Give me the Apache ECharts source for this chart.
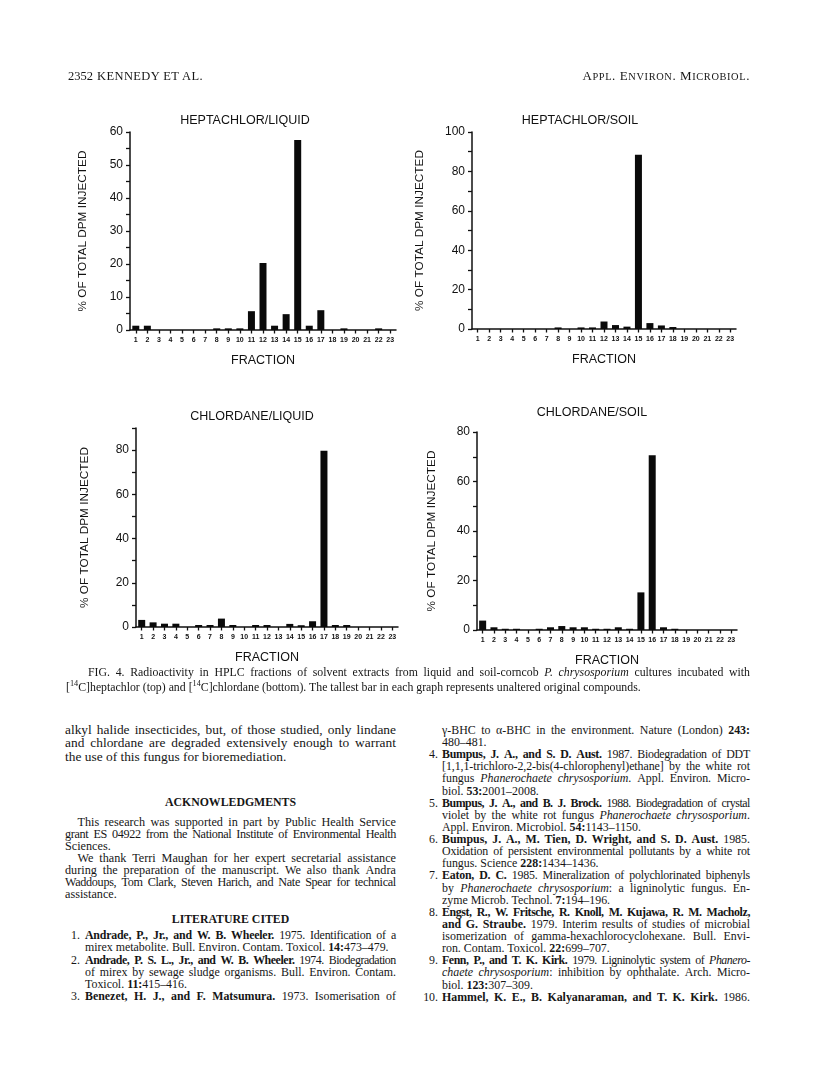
<!DOCTYPE html>
<html><head><meta charset="utf-8">
<script src="https://cdn.jsdelivr.net/npm/echarts@6/dist/echarts.min.js"></script>
<style>
html,body{margin:0;padding:0;background:#fff;}
#page{position:relative;width:816px;height:1078px;overflow:hidden;background:#fff;}
#chart{position:absolute;left:0;top:0;width:816px;height:700px;}
.ln{position:absolute;font-family:"Liberation Serif","Times New Roman",serif;color:#161616;white-space:nowrap;}
</style></head><body><div id="page"><div id="chart"></div></div>
<script>
// ---------------- data ----------------
const fractions = ['1','2','3','4','5','6','7','8','9','10','11','12','13','14','15','16','17','18','19','20','21','22','23'];
const heptachlorLiquid = [1.3,1.3,0,0,0,0,0,0.5,0.5,0.5,5.7,20.3,1.3,4.8,57.6,1.3,6.0,0,0.5,0,0,0.5,0];
const heptachlorSoil   = [0,0,0,0,0,0,0,0.8,0,0.8,0.8,3.8,2.0,1.2,88.5,3.0,1.8,1.0,0,0,0,0,0];
const chlordaneLiquid  = [3.2,2.1,1.5,1.5,0,0.9,0.9,3.8,0.9,0,0.9,0.9,0,1.4,0.8,2.6,79.7,0.9,0.9,0,0,0,0];
const chlordaneSoil    = [3.8,1.1,0.5,0.5,0,0.5,1.1,1.6,1.1,1.1,0.5,0.5,1.1,0.5,15.2,70.6,1.1,0.5,0,0,0,0,0];
const titles = ['HEPTACHLOR/LIQUID','HEPTACHLOR/SOIL','CHLORDANE/LIQUID','CHLORDANE/SOIL'];
const yTickLabels1 = [0,10,20,30,40,50,60];
const yTickLabels2 = [0,20,40,60,80,100];
const yTickLabels3 = [0,20,40,60,80];
const yTickLabels4 = [0,20,40,60,80];
const yAxisName = '% OF TOTAL DPM INJECTED';
const xAxisName = 'FRACTION';

// ---------------- charts ----------------
const panels = [
  {data: heptachlorLiquid, labels: yTickLabels1, max: 60, step: 5,  grid:{left:130, top:132, width:266, height:198}, title:[245,121], nameGap:41},
  {data: heptachlorSoil,   labels: yTickLabels2, max: 100, step: 10, grid:{left:472, top:132, width:264, height:197}, title:[580,121], nameGap:46},
  {data: chlordaneLiquid,  labels: yTickLabels3, max: 90, step: 10,  grid:{left:136, top:428, width:262, height:199}, title:[252,417], nameGap:45},
  {data: chlordaneSoil,    labels: yTickLabels4, max: 80, step: 10,  grid:{left:477, top:432, width:260, height:198}, title:[592,413], nameGap:39}
];
const SANS = '"Liberation Sans", Arial, Helvetica, sans-serif';
const axisLine = {show:true, lineStyle:{color:'#111', width:1.5}};
const option = {
  animation:false,
  backgroundColor:'transparent',
  grid: panels.map(p => Object.assign({containLabel:false}, p.grid)),
  xAxis: panels.map((p,i) => ({
    type:'category', gridIndex:i, data:fractions,
    axisLine: axisLine,
    axisTick:{show:true, alignWithLabel:true, length:3.5, lineStyle:{color:'#111', width:1.3}},
    axisLabel:{interval:0, fontSize:7, fontWeight:'bold', color:'#111', margin:7, fontFamily:SANS},
    name:xAxisName, nameLocation:'middle', nameGap:24,
    nameTextStyle:{fontSize:12.5, color:'#111', fontFamily:SANS}
  })),
  yAxis: panels.map((p,i) => ({
    type:'value', gridIndex:i, min:0, max:p.max, interval:p.step,
    axisLine: axisLine, splitLine:{show:false},
    axisTick:{show:true, length:4, lineStyle:{color:'#111', width:1.3}},
    axisLabel:{fontSize:12, color:'#111', margin:7, fontFamily:SANS,
      formatter: v => p.labels.indexOf(v) >= 0 ? String(v) : ''},
    name:yAxisName, nameLocation:'middle', nameGap:p.nameGap, nameRotate:90,
    nameTextStyle:{fontSize:11.8, color:'#111', fontFamily:SANS}
  })),
  series: panels.map((p,i) => ({
    type:'bar', xAxisIndex:i, yAxisIndex:i, data:p.data, barWidth:7,
    itemStyle:{color:'#0a0a0a'}
  })),
  graphic: panels.map((p,i) => ({
    type:'text', x:p.title[0], y:p.title[1],
    style:{text:titles[i], fill:'#111', font:'12.5px ' + SANS, textAlign:'center', textVerticalAlign:'middle'}
  }))
};
const chart = echarts.init(document.getElementById('chart'), null, {renderer:'canvas'});
chart.setOption(option);

// ---------------- page text ----------------
const page = document.getElementById('page');
function parseWords(m){
  const words=[]; let cur=[]; let buf=''; let b=false,it=false,sp=false,sc=false;
  const flush=()=>{ if(buf){cur.push({t:buf,b:b,i:it,s:sp,c:sc}); buf='';} };
  for(const ch of m){
    if(ch==='*'){flush(); b=!b;}
    else if(ch==='_'){flush(); it=!it;}
    else if(ch==='^'){flush(); sp=!sp;}
    else if(ch==='~'){flush(); sc=!sc;}
    else if(ch===' '){flush(); if(cur.length){words.push(cur); cur=[];}}
    else buf+=ch;
  }
  flush(); if(cur.length) words.push(cur);
  return words;
}
function wordSpan(runs){
  const w=document.createElement('span');
  runs.forEach(r=>{
    const s=document.createElement('span'); s.textContent=r.t;
    if(r.b) s.style.fontWeight='bold';
    if(r.i) s.style.fontStyle='italic';
    if(r.c) s.style.fontSize='80%';
    if(r.s){s.style.fontSize='70%'; s.style.verticalAlign='super'; s.style.lineHeight='0';}
    w.appendChild(s);
  });
  return w;
}
function line(x,y,w,markup,o){
  o=o||{};
  const size=o.size||11.5, lh=14;
  const d=document.createElement('div'); d.className='ln';
  d.style.left=x+'px'; d.style.top=(y-lh/2)+'px'; d.style.width=w+'px';
  d.style.fontSize=size+'px'; d.style.lineHeight=lh+'px';
  if(o.bold) d.style.fontWeight='bold';
  if(o.ls) d.style.letterSpacing=o.ls+'px';
  const words=parseWords(markup);
  const inner=document.createElement('span'); inner.style.whiteSpace='nowrap';
  words.forEach((wr,k)=>{ if(k) inner.appendChild(document.createTextNode(' ')); inner.appendChild(wordSpan(wr)); });
  d.appendChild(inner); page.appendChild(d);
  const nat=inner.getBoundingClientRect().width;
  const nch=markup.replace(/[*_^~]/g,'').length;
  const minGap=(words.length-1)*size*0.2;
  if(o.justify && nat>w-minGap*0.6){ d.style.letterSpacing=(-(nat-w+minGap)/nch)+'px'; }
  else if(!o.justify && nat>w){ d.style.letterSpacing=(-(nat-w+1)/nch)+'px'; }
  if(o.justify){
    d.innerHTML=''; d.style.display='flex'; d.style.justifyContent='space-between';
    words.forEach(wr=>d.appendChild(wordSpan(wr)));
  } else {
    d.style.textAlign=o.align||'left';
  }
}

// header
line(68,76,60,'2352',{size:12.5});
line(97,76,200,'KENNEDY ET AL.',{size:12.5,ls:0.4});
line(450,76,300,'A~PPL~. E~NVIRON~. M~ICROBIOL~.',{size:13,align:'right',ls:0.6});

// caption
const CAP=11.8;
line(88,672,662,'FIG. 4. Radioactivity in HPLC fractions of solvent extracts from liquid and soil-corncob _P. chrysosporium_ cultures incubated with',{size:CAP,justify:true});
line(66,687,684,'[^14^C]heptachlor (top) and [^14^C]chlordane (bottom). The tallest bar in each graph represents unaltered original compounds.',{size:CAP});

// left column
const LX=65, LW=331;
line(LX,730,LW,'alkyl halide insecticides, but, of those studied, only lindane',{size:13.4,justify:true});
line(LX,743.3,LW,'and chlordane are degraded extensively enough to warrant',{size:13.4,justify:true});
line(LX,756.6,LW,'the use of this fungus for bioremediation.',{size:13.4});
const ACK=12.2;
const ackLines=[
  [821.7,'This research was supported in part by Public Health Service',true,12.5],
  [833.8,'grant ES 04922 from the National Institute of Environmental Health',true,0],
  [845.9,'Sciences.',false,0],
  [858,'We thank Terri Maughan for her expert secretarial assistance',true,12.5],
  [870.1,'during the preparation of the manuscript. We also thank Andra',true,0],
  [882.2,'Waddoups, Tom Clark, Steven Harich, and Nate Spear for technical',true,0],
  [894.3,'assistance.',false,0]
];
ackLines.forEach(l=>line(LX+l[3],l[0],LW-l[3],l[1],{justify:l[2],size:ACK}));
line(LX,802,LW,'ACKNOWLEDGMENTS',{bold:true,align:'center',size:11.8});
line(LX,919,LW,'LITERATURE CITED',{bold:true,align:'center',size:11.8});

const REF=11.9;
function refs(numX,textX,right,y0,items){
  let y=y0; const pitch=12.12;
  items.forEach(it=>{
    if(it.n) line(numX-30,y,30,it.n,{align:'right',size:REF});
    it.lines.forEach((t,k)=>{
      const last=k===it.lines.length-1 && !it.cont;
      line(textX,y,right-textX,t,{justify:!last,size:REF});
      y+=pitch;
    });
  });
}
refs(80,85,396,935.3,[
  {n:'1.',lines:['*Andrade, P., Jr., and W. B. Wheeler.* 1975. Identification of a','mirex metabolite. Bull. Environ. Contam. Toxicol. *14:*473–479.']},
  {n:'2.',lines:['*Andrade, P. S. L., Jr., and W. B. Wheeler.* 1974. Biodegradation','of mirex by sewage sludge organisms. Bull. Environ. Contam.','Toxicol. *11:*415–416.']},
  {n:'3.',cont:true,lines:['*Benezet, H. J., and F. Matsumura.* 1973. Isomerisation of']}
]);
refs(438,442,750,730,[
  {lines:['γ-BHC to α-BHC in the environment. Nature (London) *243:*','480–481.']},
  {n:'4.',lines:['*Bumpus, J. A., and S. D. Aust.* 1987. Biodegradation of DDT','[1,1,1-trichloro-2,2-bis(4-chlorophenyl)ethane] by the white rot','fungus _Phanerochaete chrysosporium_. Appl. Environ. Micro-','biol. *53:*2001–2008.']},
  {n:'5.',lines:['*Bumpus, J. A., and B. J. Brock.* 1988. Biodegradation of crystal','violet by the white rot fungus _Phanerochaete chrysosporium_.','Appl. Environ. Microbiol. *54:*1143–1150.']},
  {n:'6.',lines:['*Bumpus, J. A., M. Tien, D. Wright, and S. D. Aust.* 1985.','Oxidation of persistent environmental pollutants by a white rot','fungus. Science *228:*1434–1436.']},
  {n:'7.',lines:['*Eaton, D. C.* 1985. Mineralization of polychlorinated biphenyls','by _Phanerochaete chrysosporium_: a ligninolytic fungus. En-','zyme Microb. Technol. *7:*194–196.']},
  {n:'8.',lines:['*Engst, R., W. Fritsche, R. Knoll, M. Kujawa, R. M. Macholz,*','*and G. Straube.* 1979. Interim results of studies of microbial','isomerization of gamma-hexachlorocyclohexane. Bull. Envi-','ron. Contam. Toxicol. *22:*699–707.']},
  {n:'9.',lines:['*Fenn, P., and T. K. Kirk.* 1979. Ligninolytic system of _Phanero-_','_chaete chrysosporium_: inhibition by ophthalate. Arch. Micro-','biol. *123:*307–309.']},
  {n:'10.',cont:true,lines:['*Hammel, K. E., B. Kalyanaraman, and T. K. Kirk.* 1986.']}
]);
</script></body></html>
